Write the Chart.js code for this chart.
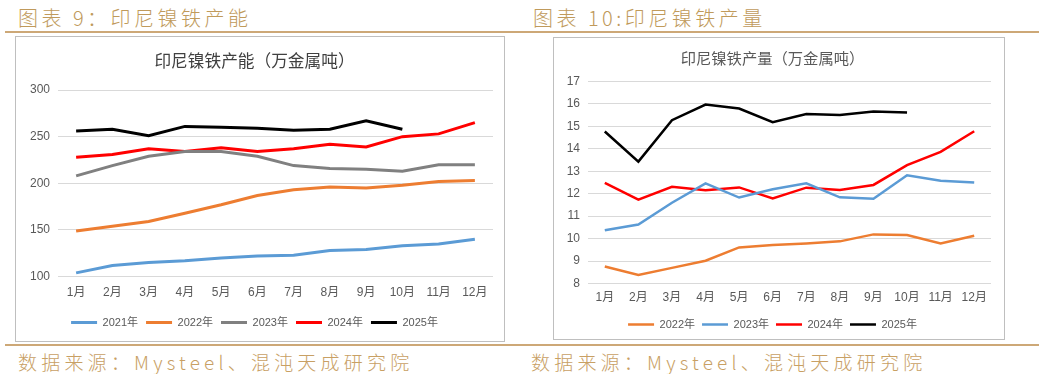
<!DOCTYPE html>
<html>
<head>
<meta charset="utf-8">
<script src="https://cdn.jsdelivr.net/npm/chart.js@4/dist/chart.umd.min.js"></script>
<style>
  html, body { margin: 0; padding: 0; background: #fff; }
  body { width: 1039px; height: 374px; position: relative; overflow: hidden; }
  .hdr { position: absolute; top: 3px; font-family: "Noto Sans CJK SC", sans-serif; font-weight: 300; font-size: 20px; color: #C09A5B; letter-spacing: 3.5px; white-space: nowrap; }
  .ftr { position: absolute; top: 348px; font-family: "Noto Sans CJK SC", sans-serif; font-weight: 300; font-size: 19px; color: #C8A064; letter-spacing: 4.2px; white-space: nowrap; }
  .rule { position: absolute; left: 5px; width: 1034px; height: 2px; background: #CDA877; }
  .frame { position: absolute; border: 1px solid #BFBFBF; box-sizing: border-box; background: #fff; }
</style>
</head>
<body>
<div class="hdr" style="left:18px;">图表 9：印尼镍铁产能</div>
<div class="hdr" style="left:533px;">图表 10:印尼镍铁产量</div>
<div class="rule" style="top:31px;"></div>
<div class="frame" style="left:15px; top:36px; width:490px; height:306px;"><div style="position:absolute;left:0;top:0;width:488px;height:304px;"><canvas id="c1"></canvas></div></div>
<div class="frame" style="left:553px; top:37px; width:452px; height:303px;"><div style="position:absolute;left:0;top:0;width:450px;height:302px;"><canvas id="c2"></canvas></div></div>
<div class="rule" style="top:344px;"></div>
<div class="ftr" style="left:18px;">数据来源：Mysteel、混沌天成研究院</div>
<div class="ftr" style="left:531px;">数据来源：Mysteel、混沌天成研究院</div>
<script>
// ---- data ----
const months = ["1月","2月","3月","4月","5月","6月","7月","8月","9月","10月","11月","12月"];

// 印尼镍铁产能（万金属吨）
const cap2021 = [104, 112, 115, 117, 120, 122, 123, 128, 129, 133, 135, 140];
const cap2022 = [149, 154, 159, 168, 177, 187, 193, 196, 195, 198, 202, 203];
const cap2023 = [208, 219, 229, 234, 234, 229, 219, 216, 215, 213, 220, 220];
const cap2024 = [228, 231, 237, 234, 238, 234, 237, 242, 239, 250, 253, 265];
const cap2025 = [256, 258, 251, 261, 260, 259, 257, 258, 267, 258, null, null];

// 印尼镍铁产量（万金属吨）
const out2022 = [8.76, 8.38, 8.70, 9.02, 9.61, 9.72, 9.79, 9.88, 10.19, 10.16, 9.79, 10.13];
const out2023 = [10.37, 10.63, 11.60, 12.46, 11.83, 12.20, 12.46, 11.84, 11.78, 12.82, 12.58, 12.50];
const out2024 = [12.48, 11.74, 12.31, 12.15, 12.28, 11.79, 12.27, 12.17, 12.39, 13.27, 13.86, 14.78];
const out2025 = [14.77, 13.43, 15.27, 15.97, 15.79, 15.18, 15.55, 15.50, 15.66, 15.61, null, null];

const capTicks = { min: 100, max: 300, step: 50 };
const outTicks = { min: 8, max: 17, step: 1 };

const BLUE = "#5B9BD5", ORANGE = "#ED7D31", GRAY = "#808080", RED = "#FF0000", BLACK = "#000000";
const TICK_FONT = { family: "'Liberation Sans', 'Noto Sans CJK SC', sans-serif", size: 12 };
const LEG_FONT = { family: "'Liberation Sans', 'Noto Sans CJK SC', sans-serif", size: 11, lineHeight: 1 };

function ds(label, data, color, w) {
  return { label, data, borderColor: color, backgroundColor: color, borderWidth: w,
           pointRadius: 0, pointHoverRadius: 0, tension: 0, fill: false, spanGaps: false };
}

function makeChart(id, datasets, ticks, opts) {
  return new Chart(document.getElementById(id), {
    type: "line",
    data: { labels: months, datasets },
    options: {
      responsive: true, maintainAspectRatio: false, animation: false,
      layout: { padding: opts.padding },
      plugins: {
        title: { display: true, text: opts.title, color: opts.titleColor,
                 font: { family: "'Noto Sans CJK SC', sans-serif", size: opts.titleSize, weight: "normal" },
                 padding: opts.titlePadding },
        legend: { position: "bottom",
                  labels: { usePointStyle: true, pointStyle: "line", pointStyleWidth: 26,
                            color: "#595959", font: LEG_FONT, padding: opts.legendPad, boxHeight: 8 } },
        tooltip: { enabled: false }
      },
      scales: {
        x: { offset: true, grid: { display: false, drawTicks: false }, border: { display: false },
             ticks: { color: "#595959", font: TICK_FONT, padding: opts.xPad, maxRotation: 0 } },
        y: { min: ticks.min, max: ticks.max,
             grid: { color: "#D9D9D9", lineWidth: 1, drawTicks: false }, border: { display: false },
             ticks: { stepSize: ticks.step, color: "#595959", font: TICK_FONT, padding: 8 },
             afterFit: (s) => { s.width = opts.yWidth; } }
      }
    }
  });
}

makeChart("c1", [
  ds("2021年", cap2021, BLUE, 3),
  ds("2022年", cap2022, ORANGE, 3),
  ds("2023年", cap2023, GRAY, 3),
  ds("2024年", cap2024, RED, 3),
  ds("2025年", cap2025, BLACK, 3)
], capTicks, { title: "印尼镍铁产能（万金属吨）", titleColor: "#404040", titleSize: 16.7,
  titlePadding: { top: 14, bottom: 19 }, padding: { left: 0, right: 11, top: 0, bottom: 3 },
  yWidth: 42, xPad: 9, legendPad: 8 });

makeChart("c2", [
  ds("2022年", out2022, ORANGE, 2.5),
  ds("2023年", out2023, BLUE, 2.5),
  ds("2024年", out2024, RED, 2.5),
  ds("2025年", out2025, BLACK, 2.5)
], outTicks, { title: "印尼镍铁产量（万金属吨）", titleColor: "#595959", titleSize: 15.3,
  titlePadding: { top: 11, bottom: 14 }, padding: { left: 0, right: 13, top: 0, bottom: 0 },
  yWidth: 34, xPad: 7, legendPad: 7 });
</script>
</body>
</html>
